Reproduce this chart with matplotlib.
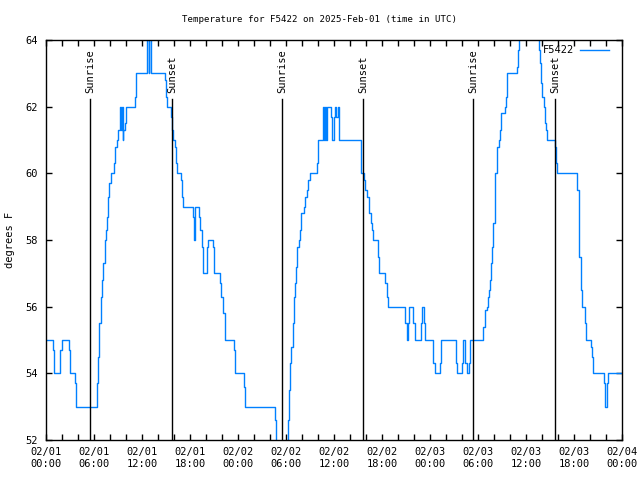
import matplotlib
matplotlib.use("Agg")
import matplotlib.pyplot as plt
import matplotlib.transforms as mtransforms

# hours since 2025-02-01 00:00 UTC, temperature in F (step samples)
hours = [
    0.00, 0.83, 1.00, 1.75, 2.00, 2.83, 3.00, 3.58, 3.75, 6.33,
    6.50, 6.67, 6.83, 7.00, 7.17, 7.33, 7.50, 7.58, 7.75, 7.92,
    8.08, 8.50, 8.58, 8.83, 9.00, 9.25, 9.42, 9.50, 9.58, 9.67,
    9.83, 10.00, 11.08, 11.25, 12.67, 12.83, 12.92, 13.08, 14.83, 15.00,
    15.08, 15.58, 15.75, 15.83, 16.08, 16.25, 16.33, 16.83, 17.00, 17.08,
    18.33, 18.50, 18.67, 19.08, 19.25, 19.50, 19.67, 20.08, 20.25, 20.83,
    21.00, 21.75, 21.92, 22.17, 22.42, 23.50, 23.67, 24.75, 24.92, 28.58,
    28.75, 30.25, 30.42, 30.55, 30.67, 30.83, 30.96, 31.08, 31.25, 31.38,
    31.58, 31.75, 31.92, 32.25, 32.33, 32.58, 32.75, 33.00, 33.83, 34.00,
    34.58, 34.71, 34.83, 34.96, 35.08, 35.58, 35.75, 36.00, 36.17, 36.25,
    36.50, 36.67, 39.33, 39.42, 39.75, 39.92, 40.17, 40.33, 40.58, 40.75,
    40.92, 41.50, 41.58, 42.42, 42.58, 42.75, 44.83, 45.08, 45.25, 45.42,
    45.92, 46.08, 46.83, 47.00, 47.25, 47.42, 48.42, 48.58, 49.25, 49.42,
    51.25, 51.42, 52.00, 52.08, 52.42, 52.58, 52.83, 53.00, 54.67, 54.83,
    54.92, 55.08, 55.25, 55.42, 55.50, 55.67, 55.75, 55.92, 56.08, 56.17,
    56.33, 56.42, 56.58, 56.75, 56.92, 57.33, 57.50, 57.67, 58.92, 59.00,
    59.17, 61.58, 61.67, 61.75, 61.83, 61.92, 62.00, 62.25, 62.33, 62.42,
    62.50, 62.58, 63.67, 63.75, 63.83, 66.42, 66.58, 66.67, 66.83, 67.00,
    67.33, 67.50, 68.17, 68.25, 68.42, 69.75, 69.92, 70.17, 70.25, 72.00,
]
temps = [
    55.0, 54.7, 54.0, 54.7, 55.0, 54.7, 54.0, 53.7, 53.0, 53.7,
    54.5, 55.5, 56.3, 56.8, 57.3, 58.0, 58.3, 58.7, 59.3, 59.7,
    60.0, 60.3, 60.8, 61.0, 61.3, 62.0, 61.3, 62.0, 61.0, 61.3,
    61.5, 62.0, 62.3, 63.0, 64.5, 63.0, 64.5, 63.0, 62.8, 62.3,
    62.0, 61.7, 61.3, 61.0, 60.8, 60.3, 60.0, 59.8, 59.3, 59.0,
    58.7, 58.0, 59.0, 58.7, 58.3, 57.8, 57.0, 57.8, 58.0, 57.8,
    57.0, 56.7, 56.3, 55.8, 55.0, 54.7, 54.0, 53.6, 53.0, 52.6,
    51.5, 52.6, 53.5, 54.3, 54.8, 55.5, 56.3, 56.7, 57.2, 57.8,
    58.0, 58.3, 58.8, 59.0, 59.3, 59.5, 59.8, 60.0, 60.3, 61.0,
    62.0, 61.0, 62.0, 61.0, 62.0, 61.7, 61.0, 61.7, 62.0, 61.7,
    62.0, 61.0, 60.5, 60.0, 59.8, 59.5, 59.3, 58.8, 58.5, 58.3,
    58.0, 57.5, 57.0, 56.7, 56.3, 56.0, 55.5, 55.0, 55.5, 56.0,
    55.5, 55.0, 55.5, 56.0, 55.5, 55.0, 54.3, 54.0, 54.3, 55.0,
    54.3, 54.0, 54.3, 55.0, 54.3, 54.0, 54.3, 55.0, 55.4, 55.7,
    55.9, 56.0, 56.3, 56.5, 56.8, 57.3, 57.8, 58.5, 59.5, 60.0,
    60.3, 60.8, 61.0, 61.3, 61.8, 62.0, 62.3, 63.0, 63.2, 63.7,
    64.5, 64.0, 63.7, 63.3, 63.0, 62.7, 62.3, 62.0, 61.8, 61.5,
    61.3, 61.0, 60.8, 60.3, 60.0, 59.5, 58.5, 57.5, 56.5, 56.0,
    55.5, 55.0, 54.8, 54.5, 54.0, 53.7, 53.0, 53.7, 54.0, 54.0,
]

sun_events = [5.54, 15.79, 29.54, 39.67, 53.42, 63.67]
sun_labels = ["Sunrise", "Sunset", "Sunrise", "Sunset", "Sunrise", "Sunset"]

tick_hours = list(range(0, 73, 6))
tick_labels = [
    "02/01\n00:00", "02/01\n06:00", "02/01\n12:00", "02/01\n18:00",
    "02/02\n00:00", "02/02\n06:00", "02/02\n12:00", "02/02\n18:00",
    "02/03\n00:00", "02/03\n06:00", "02/03\n12:00", "02/03\n18:00",
    "02/04\n00:00",
]

plt.rcParams["font.family"] = ["DejaVu Sans Mono"]
plt.rcParams["font.size"] = 7

fig = plt.figure(figsize=(6.4, 4.8), dpi=100)
ax = fig.add_axes([46 / 640, 40 / 480, 576 / 640, 400 / 480])

ax.step(hours, temps, where="post", color="#0080ff", lw=1.0, label="F5422")

# sunrise / sunset markers
trans = mtransforms.blended_transform_factory(ax.transData, ax.transAxes)
for t, lab in zip(sun_events, sun_labels):
    ax.axvline(t, ymin=0, ymax=0.852, color="black", lw=1.0)
    ax.text(t, 0.868, lab, rotation=90, transform=trans,
            ha="center", va="bottom", fontsize=7.5)

ax.set_xlim(0, 72)
ax.set_ylim(52, 64)
ax.set_xticks(tick_hours)
ax.set_xticklabels(tick_labels)
ax.set_xticks(range(0, 73, 2), minor=True)
ax.set_yticks(range(52, 65, 2))

ax.tick_params(axis="both", which="both", direction="in", top=True, right=True,
               length=4, width=1, labelsize=7.5)
ax.tick_params(axis="x", which="minor", length=4)
ax.tick_params(axis="x", pad=5)
ax.tick_params(axis="y", pad=6)
for s in ax.spines.values():
    s.set_linewidth(1.0)

ax.legend(loc="upper right", bbox_to_anchor=(0.986, 1.0), frameon=False,
          markerfirst=False, handlelength=2.8, fontsize=7.5, borderaxespad=0.1,
          handletextpad=0.5)

fig.text(0.5, 1 - 19 / 480, "Temperature for F5422 on 2025-Feb-01 (time in UTC)",
         ha="center", va="center", fontsize=6.6)
fig.text(10 / 640, 0.5, "degrees F", rotation=90, ha="center", va="center",
         fontsize=7.5)

fig.savefig("out.png", dpi=100)
